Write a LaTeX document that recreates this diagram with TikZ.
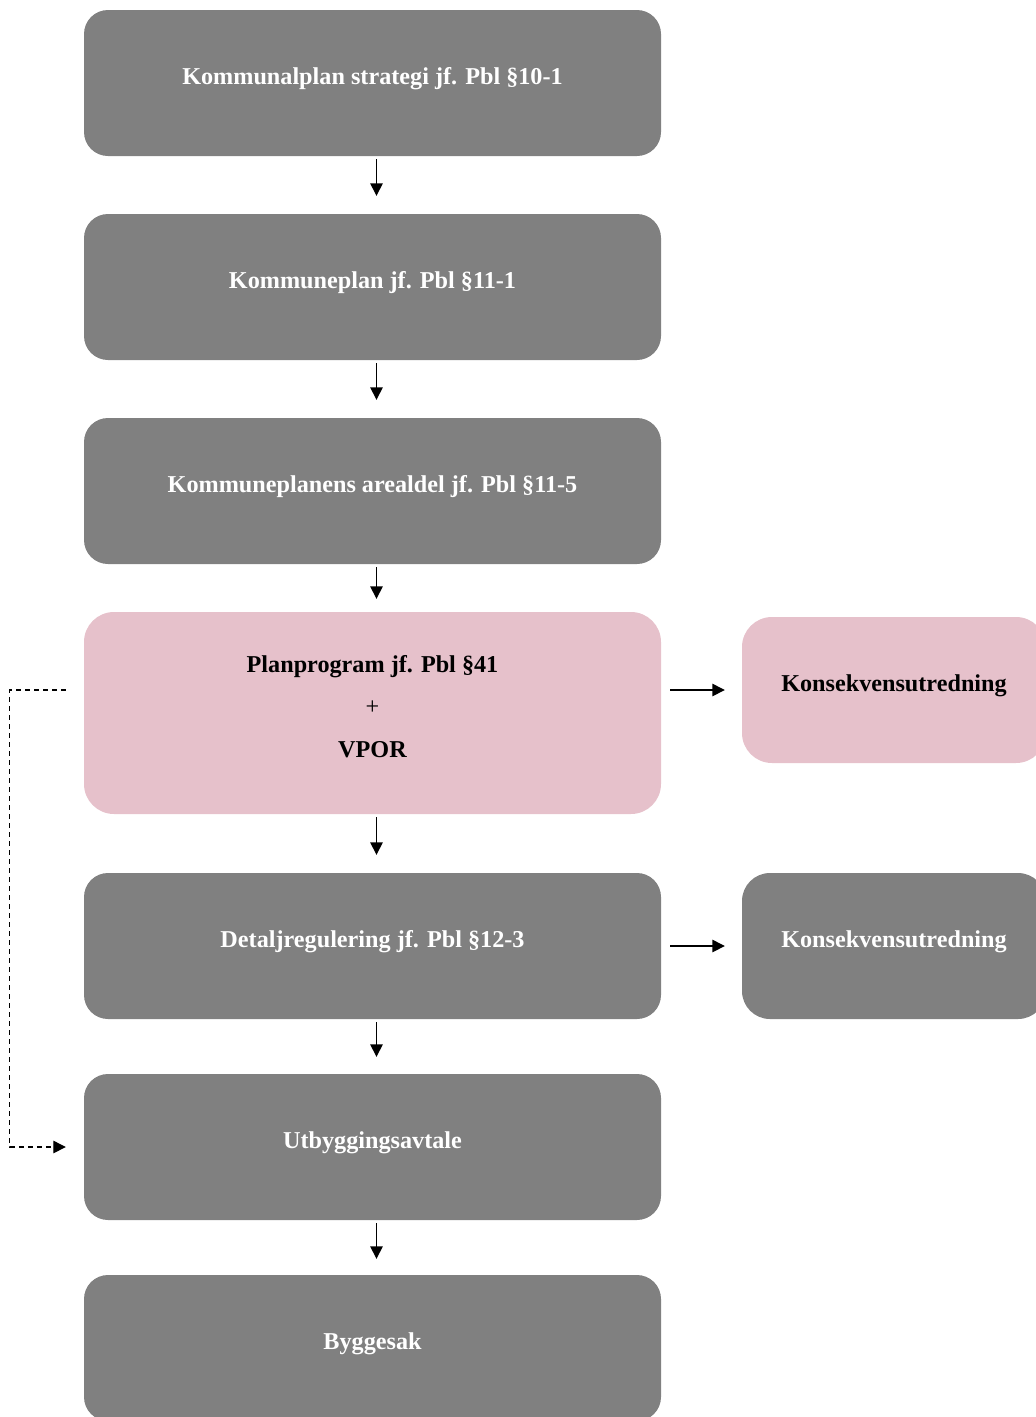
\documentclass[tikz,border=0pt]{standalone}
\usepackage{fontspec}
\setmainfont{Liberation Serif}
\usetikzlibrary{arrows.meta}
\definecolor{boxgray}{HTML}{808080}
\definecolor{kupink}{HTML}{E6C1CB}
\tikzset{
  planbox/.style={fill=boxgray, text=white, inner sep=0pt,
    minimum width=577pt, minimum height=146pt, rounded corners=24pt,
    text height=14pt, text depth=12pt},
  pinkbox/.style={planbox, fill=kupink, text=black, rounded corners=30pt},
  kubox/.style={planbox, minimum width=304pt, rounded corners=28pt},
  flow/.style={-{Triangle[length=12.5pt,width=12.5pt]}, line width=1.4pt,
    shorten <=3pt, shorten >=17pt},
  side/.style={flow, shorten <=9pt, shorten >=17pt},
  back/.style={flow, line width=1.3pt, dash pattern=on 5pt off 4pt,
    shorten <=18pt, shorten >=18pt}
}

\begin{document}
\begin{tikzpicture}[x=1pt, y=-1pt, font=\fontsize{24.2}{42.2}\selectfont\bfseries]
\useasboundingbox (0,0) rectangle (1036,1417);

\node[planbox] (k1) at (372.5,83) {Kommunalplan strategi jf. Pbl §10-1};
\node[planbox] (k2) at (372.5,287) {Kommuneplan jf. Pbl §11-1};
\node[planbox] (k3) at (372.5,491) {Kommuneplanens arealdel jf. Pbl §11-5};
\node[pinkbox, minimum height=202pt] (plan) at (372.5,713) {};
\node[align=center, inner sep=0pt] (plantxt) at ([yshift=6.5pt]plan.center)
  {Planprogram jf. Pbl §41\\{\mdseries +}\\VPOR};
\node[planbox] (detalj) at (372.5,946) {Detaljregulering jf. Pbl §12-3};
\node[planbox] (utb) at (372.5,1147) {Utbyggingsavtale};
\node[planbox] (bygg) at (372.5,1348) {Byggesak};

\node[kubox, pinkbox, minimum width=304pt] (ku1) at (894,690) {Konsekvensutredning};
\node[kubox] (ku2) at (894,946) {Konsekvensutredning};

\foreach \a/\b/\s in {k1/k2/18, k2/k3/18, k3/plan/13, plan/detalj/18, detalj/utb/17, utb/bygg/16}
  \draw[flow, shorten >=\s pt] ([xshift=4pt]\a.south) -- ([xshift=4pt]\b.north);

\draw[side] (plan.east |- ku1) -- (ku1.west);
\draw[side] (detalj.east) -- (ku2.west);
\draw[back] (plan.west |- ku1) -- ++(-74,0) |- (utb.west);
\end{tikzpicture}
\end{document}
